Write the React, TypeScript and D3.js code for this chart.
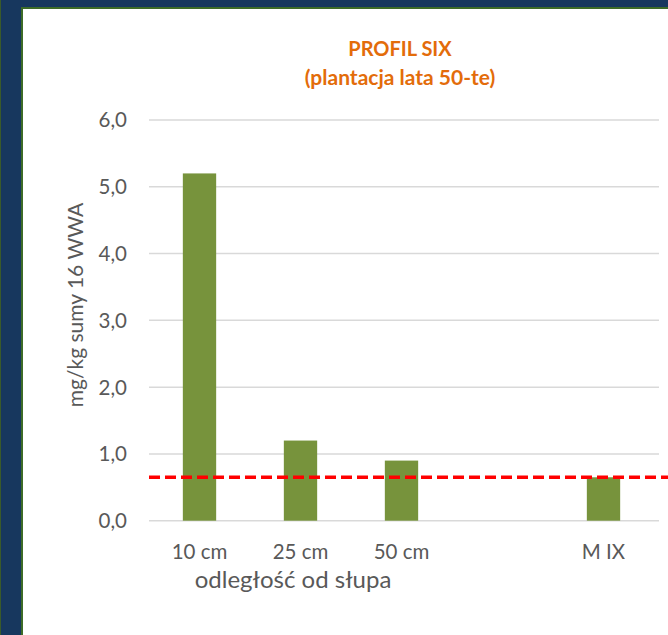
import React from "react";
import * as d3 from "d3";

const categories = ["10 cm", "25 cm", "50 cm", "", "M IX"];
const values: (number | null)[] = [5.2, 1.2, 0.9, null, 0.65];
const thresholdValue = 0.65;
const yTicks = [0, 1, 2, 3, 4, 5, 6];
const titleLines = ["PROFIL SIX", "(plantacja lata 50-te)"];
const xAxisTitle = "odległość od słupa";
const yAxisTitle = "mg/kg sumy 16 WWA";

const W = 668;
const H = 635;
const FONT = "Lato, 'Open Sans', sans-serif";

export default function App() {
  const x = d3
    .scaleBand<string>()
    .domain(categories)
    .range([149, 654])
    .paddingInner(0.67)
    .paddingOuter(0.335);
  const y = d3.scaleLinear().domain([0, 6]).range([520.7, 120]);
  const fmt = (v: number) => d3.format(".1f")(v).replace(".", ",");

  return (
    <div style={{ position: "fixed", left: 0, top: 0, width: W, height: H }}>
      <svg width={W} height={H} style={{ display: "block" }}>
        <rect x={0} y={0} width={W} height={H} fill="#17375e" />
        <rect x={0} y={0} width={1} height={H} fill="#3a5a2a" />
        <rect x={21} y={7} width={W - 21} height={H - 7} fill="#3d6b27" />
        <rect x={23} y={9} width={W - 23} height={H - 9} fill="#ffffff" />

        {titleLines.map((t, i) => (
          <text
            key={i}
            x={400}
            y={56 + i * 29}
            textAnchor="middle"
            fill="#e36c0a"
            fontFamily={FONT}
            fontWeight="bold"
            fontSize={i === 0 ? 20 : 21}
          >
            {t}
          </text>
        ))}

        {yTicks.map((t) => (
          <g key={t}>
            <line
              x1={149}
              x2={659}
              y1={y(t)}
              y2={y(t)}
              stroke="#d9d9d9"
              strokeWidth={1.5}
            />
            <text
              x={127}
              y={y(t)}
              dy="0.36em"
              textAnchor="end"
              fill="#595959"
              fontFamily={FONT}
              fontSize={20.5}
            >
              {fmt(t)}
            </text>
          </g>
        ))}

        {categories.map((c, i) =>
          values[i] == null ? null : (
            <rect
              key={i}
              x={x(c)!}
              y={y(values[i] as number)}
              width={x.bandwidth()}
              height={y(0) - y(values[i] as number)}
              fill="#77933c"
            />
          )
        )}

        <line
          x1={149}
          x2={668}
          y1={y(thresholdValue)}
          y2={y(thresholdValue)}
          stroke="#ff0000"
          strokeWidth={3.5}
          strokeDasharray="11,5"
        />

        {categories.map((c, i) => (
          <text
            key={i}
            x={x(c)! + x.bandwidth() / 2}
            y={559}
            textAnchor="middle"
            fill="#595959"
            fontFamily={FONT}
            fontSize={20.5}
          >
            {c}
          </text>
        ))}

        <text
          x={293}
          y={588}
          textAnchor="middle"
          fill="#595959"
          fontFamily={FONT}
          fontSize={24}
        >
          {xAxisTitle}
        </text>

        <text
          transform={`translate(83,305) rotate(-90)`}
          textAnchor="middle"
          fill="#595959"
          fontFamily={FONT}
          fontSize={21}
        >
          {yAxisTitle}
        </text>
      </svg>
    </div>
  );
}
